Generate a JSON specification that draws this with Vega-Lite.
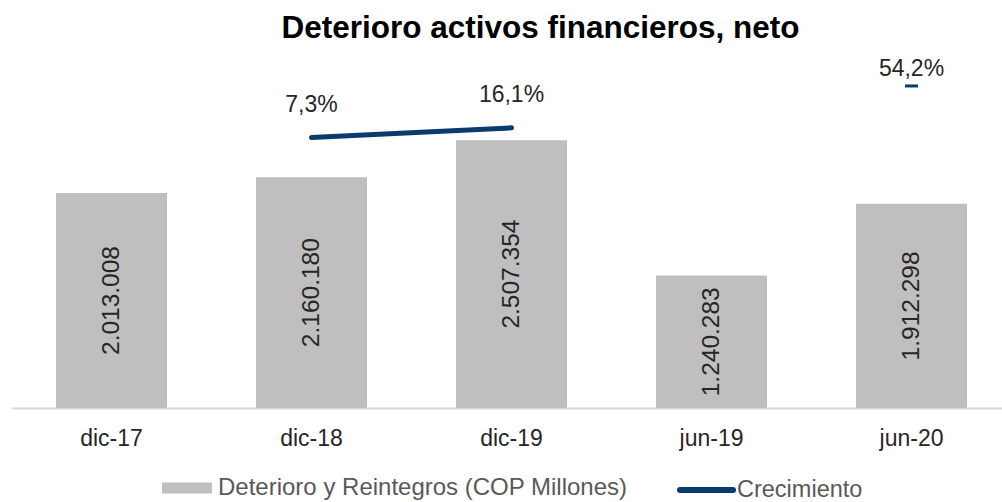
{
  "$schema": "https://vega.github.io/schema/vega-lite/v6.json",
  "autosize": "none",
  "padding": {"left": 11, "top": 60, "right": 0, "bottom": 94},
  "width": 991,
  "height": 348,
  "background": "white",
  "config": {
    "locale": {"number": {"decimal": ",", "thousands": ".", "grouping": [3], "currency": ["$", ""]}},
    "view": {"stroke": null},
    "font": "Liberation Sans"
  },
  "title": {
    "text": "Deterioro activos financieros, neto",
    "fontSize": 31.5,
    "fontWeight": "bold",
    "color": "#000000",
    "font": "Liberation Sans",
    "anchor": "middle",
    "dx": 34,
    "dy": -9
  },
  "data": {
    "values": [
      {"periodo": "dic-17", "valor": 2013008, "crec": null},
      {"periodo": "dic-18", "valor": 2160180, "crec": 0.073},
      {"periodo": "dic-19", "valor": 2507354, "crec": 0.161},
      {"periodo": "jun-19", "valor": 1240283, "crec": null},
      {"periodo": "jun-20", "valor": 1912298, "crec": 0.542}
    ]
  },
  "encoding": {
    "x": {
      "field": "periodo",
      "type": "nominal",
      "sort": null,
      "scale": {"paddingInner": 0.445, "paddingOuter": 0.2, "align": 0.5625},
      "axis": {
        "title": null,
        "labelAngle": 0,
        "labelFontSize": 23,
        "labelFont": "Liberation Sans",
        "labelColor": "#262626",
        "labelPadding": 19,
        "ticks": false,
        "domainColor": "#D9D9D9",
        "domainWidth": 2,
        "grid": false
      }
    }
  },
  "layer": [
    {
      "mark": {"type": "bar"},
      "encoding": {
        "y": {"field": "valor", "type": "quantitative", "scale": {"domain": [0, 3258273], "nice": false, "zero": false}, "axis": null},
        "color": {
          "datum": "Deterioro y Reintegros (COP Millones)",
          "scale": {"range": ["#BFBFBF"]},
          "legend": {
            "orient": "none",
            "legendX": 151,
            "legendY": 403,
            "title": null,
            "padding": 0,
            "symbolType": "M-1,-0.22L1,-0.22L1,0.22L-1,0.22Z",
            "symbolSize": 2500,
            "symbolStrokeWidth": 0,
            "labelFontSize": 24,
            "labelFont": "Liberation Sans",
            "labelColor": "#595959",
            "labelOffset": 6,
            "labelLimit": 600
          }
        }
      }
    },
    {
      "mark": {"type": "text", "angle": 270, "fontSize": 24.5, "color": "#262626", "baseline": "middle", "align": "center", "font": "Liberation Sans"},
      "encoding": {
        "y": {"field": "valor", "type": "quantitative", "scale": {"domain": [0, 6516546], "nice": false, "zero": false}, "axis": null},
        "text": {"field": "valor", "type": "quantitative", "format": ",d"}
      }
    },
    {
      "transform": [{"filter": "datum.crec != null && datum.periodo != 'jun-20'"}],
      "mark": {"type": "line", "strokeWidth": 5, "strokeCap": "round"},
      "encoding": {
        "y": {"field": "crec", "type": "quantitative", "scale": {"domain": [-2.386, 0.778], "nice": false, "zero": false}, "axis": null},
        "stroke": {
          "datum": "Crecimiento",
          "scale": {"range": ["#0B3A6E"]},
          "legend": {
            "orient": "none",
            "legendX": 666,
            "legendY": 400.5,
            "title": null,
            "padding": 0,
            "symbolType": "stroke",
            "symbolSize": 2809,
            "symbolStrokeWidth": 6,
            "labelFontSize": 23.5,
            "labelFont": "Liberation Sans",
            "labelColor": "#595959",
            "labelOffset": 1,
            "labelLimit": 600,
            "encode": {"symbols": {"update": {"strokeCap": {"value": "round"}}}}
          }
        }
      }
    },
    {
      "transform": [{"filter": "datum.periodo == 'jun-20'"}],
      "mark": {"type": "tick", "size": 13, "thickness": 3, "color": "#0B3A6E", "opacity": 1},
      "encoding": {
        "y": {"field": "crec", "type": "quantitative", "scale": {"domain": [-2.386, 0.778], "nice": false, "zero": false}, "axis": null}
      }
    },
    {
      "transform": [{"filter": "datum.crec != null && datum.periodo != 'jun-20'"}],
      "mark": {"type": "text", "fontSize": 23, "color": "#262626", "baseline": "middle", "align": "center", "dy": -32.5, "font": "Liberation Sans"},
      "encoding": {
        "y": {"field": "crec", "type": "quantitative", "scale": {"domain": [-2.386, 0.778], "nice": false, "zero": false}, "axis": null},
        "text": {"field": "crec", "type": "quantitative", "format": ".1%"}
      }
    },
    {
      "transform": [{"filter": "datum.periodo == 'jun-20'"}],
      "mark": {"type": "text", "fontSize": 23, "color": "#262626", "baseline": "middle", "align": "center", "dy": -17, "font": "Liberation Sans"},
      "encoding": {
        "y": {"field": "crec", "type": "quantitative", "scale": {"domain": [-2.386, 0.778], "nice": false, "zero": false}, "axis": null},
        "text": {"field": "crec", "type": "quantitative", "format": ".1%"}
      }
    }
  ],
  "resolve": {"scale": {"y": "independent"}}
}
